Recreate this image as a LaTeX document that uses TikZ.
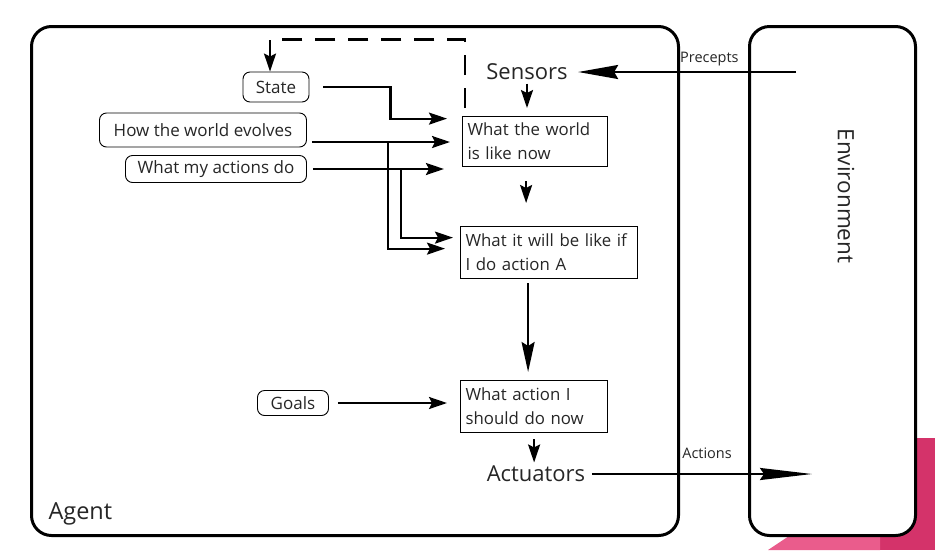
\documentclass[tikz,border=0pt]{standalone}
\usepackage{fontspec}
\setmainfont{Open Sans}
\usetikzlibrary{arrows.meta,positioning}
\definecolor{pinkdark}{HTML}{D4336A}
\definecolor{pinklight}{HTML}{EA5C8C}

\begin{document}
\begin{tikzpicture}[x=1pt,y=-1pt,>={Stealth[length=18pt,width=12pt,inset=3pt]},
    frame/.style={draw,line width=3pt,rounded corners=20pt,anchor=north west,inner sep=0pt},
    thought/.style={draw,line width=0.9pt,rounded corners=7pt,inner sep=0pt,text=black!85,
      font=\fontsize{17}{20}\selectfont},
    stepbox/.style={draw,line width=1.2pt,align=left,inner sep=5pt,anchor=north west,text=black!85,
      font=\fontsize{16.8}{24}\selectfont},
    wire/.style={line width=2.2pt},
    big/.style={text=black!85,font=\fontsize{22}{24}\selectfont},
    small/.style={text=black!85,font=\fontsize{14.5}{16}\selectfont}]
  \fill[white] (0,0) rectangle (935,550);
  \useasboundingbox (0,0) rectangle (935,550);
  \fill[pinkdark] (880,438) rectangle (935,550);
  \fill[pinklight] (768,550) -- (798,530) -- (880,530) -- (880,550) -- cycle;

  \node[frame,minimum width=647pt,minimum height=509pt] (agent) at (30,25) {};
  \node[frame,fill=white,minimum width=166pt,minimum height=509pt] (env) at (748,25) {};
  \node[big,anchor=west,font=\fontsize{23.5}{24}\selectfont] (agentname) at (45,514) {Agent};
  \node[big,rotate=-90,font=\fontsize{22.5}{24}\selectfont] (envname) at (846,196) {Environment};

  \node[big] (sensors) at (527,72) {Sensors};
  \node[big] (actuators) at (536,474) {Actuators};

  \node[stepbox,text width=135pt,minimum height=50pt] (now) at (462,116) {What the world\\is like now};
  \node[stepbox,text width=167pt,minimum height=52pt] (ifdo) at (460,226) {What it will be like if\\I do action A};
  \node[stepbox,text width=137pt,minimum height=52pt] (todo) at (460,380) {What action I\\should do now};

  \node[thought,minimum width=66pt,minimum height=30pt] (state) at (276,87) {State};
  \node[thought,minimum width=207pt,minimum height=34pt] (evolves) at (203,130) {How the world evolves};
  \node[thought,minimum width=181pt,minimum height=27pt] (mydo) at (216,169) {What my actions do};
  \node[thought,minimum width=71pt,minimum height=25pt] (goals) at (293,403) {Goals};

  \coordinate (percin) at (796,72);
  \coordinate (actout) at (812,474);
  \draw[wire,-{Stealth[length=40pt,width=14pt,inset=4pt]},shorten >=7pt] (percin) -- node[small,pos=0.385,above=2pt] (perlabel) {Precepts} (sensors);
  \draw[wire,-{Stealth[length=52pt,width=12pt,inset=4pt]},shorten <=3pt] (actuators) -- node[small,pos=0.53,above=11pt] (actlabel) {Actions} (actout);

  \draw[wire,->,shorten >=8pt] (sensors.south) -- (sensors.south |- now.north);
  \draw[wire,->,shorten <=14pt,shorten >=23pt] ([xshift=-9pt]now.south) -- ([xshift=-9pt]now.south |- ifdo.north);
  \draw[wire,-{Stealth[length=30pt,width=13pt,inset=4pt]},shorten <=4pt,shorten >=8pt] ([xshift=-21pt]ifdo.south) -- ([xshift=-21pt]ifdo.south |- todo.north);
  \draw[wire,->,shorten <=6pt] (todo.south) -- (todo.south |- actuators.north);

  % memory of the state
  \draw[wire,->,dash pattern=on 20pt off 13pt] ([xshift=3pt,yshift=8pt]now.north west) |- ([xshift=-6pt,yshift=32pt]state.north) -- ([xshift=-6pt]state.north);
  \draw[wire,->,shorten >=15pt] ([xshift=14pt]state.east) -- ++(67,0) |- ([yshift=23pt]now.west);

  \coordinate (evout) at ([xshift=5pt,yshift=-12pt]evolves.east);
  \coordinate (mdout) at ([xshift=6pt]mydo.east);
  \draw[wire,->,shorten >=12pt] (evout) -- (evout -| now.west);
  \draw[wire,->,shorten >=15pt] ([xshift=76pt]evout) |- ([yshift=4pt]ifdo.west);
  \draw[wire,->] (mdout) -- ++(131,0);
  \draw[wire,->,shorten >=7pt] ([xshift=88pt]mdout) |- ([yshift=15pt]ifdo.west);

  \draw[wire,->,shorten <=9pt,shorten >=13pt] (goals) -- (goals -| todo.west);
\end{tikzpicture}
\end{document}
